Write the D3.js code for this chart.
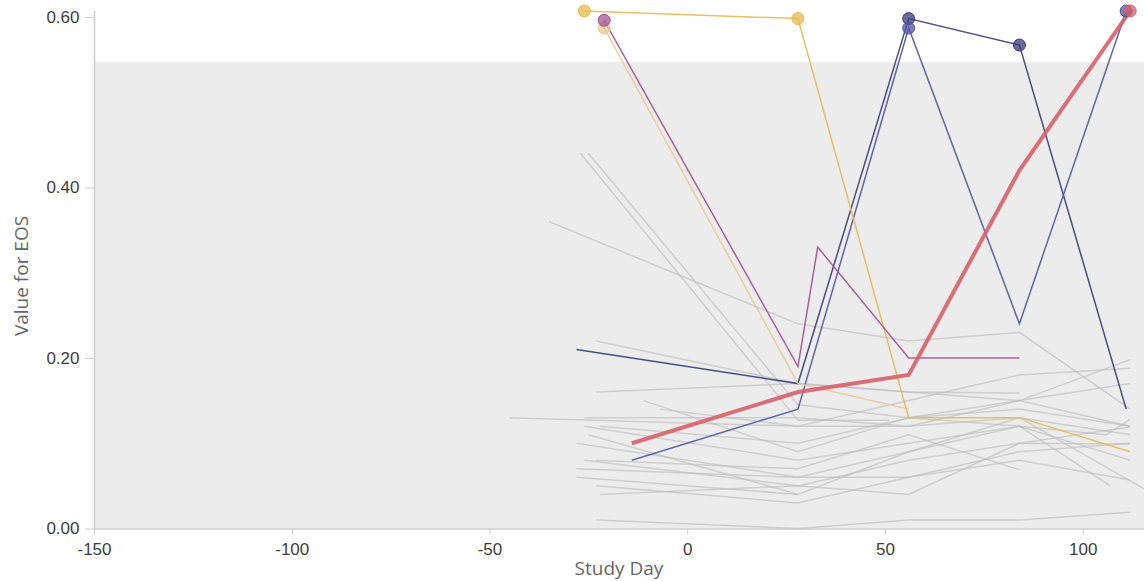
<!DOCTYPE html>
<html>
<head>
<meta charset="utf-8">
<script src="https://cdn.jsdelivr.net/npm/d3@7"></script>
<style>
  html, body { margin: 0; padding: 0; background: #fff; }
  svg { display: block; font-family: "Open Sans", sans-serif; }
</style>
</head>
<body>
<svg id="chart" width="1144" height="581"></svg>
<script>
// Axis ticks
const xTicks = [-150, -100, -50, 0, 50, 100];
const yTicks = [0, 0.2, 0.4, 0.6];

// Normal range for EOS (shaded band)
const normalRange = [0, 0.547];

// Highlighted participants: [study day, value]
const seriesNavy   = [[-28, 0.21], [28, 0.17], [56, 0.598], [84, 0.567], [111, 0.14]];
const seriesBlue   = [[-14, 0.08], [28, 0.14], [56, 0.587], [84, 0.24], [111, 0.607]];
const seriesYellow = [[-26, 0.607], [28, 0.598], [56, 0.13], [84, 0.13], [112, 0.09]];
const seriesTan    = [[-21, 0.587], [28, 0.17], [56, 0.14]];
const seriesPurple = [[-21, 0.596], [28, 0.19], [33, 0.33], [56, 0.20], [84, 0.20]];
const seriesRed    = [[-14, 0.10], [28, 0.16], [56, 0.18], [84, 0.42], [112, 0.607]];

// Remaining participants, drawn in grey
const greyLines = [
  [[-27, 0.44], [28, 0.127], [51, 0.127]],
  [[-25, 0.44], [28, 0.145], [56, 0.13], [84, 0.14], [112, 0.12]],
  [[-35, 0.36], [28, 0.24], [56, 0.22], [84, 0.23], [112, 0.14]],
  [[-23, 0.22], [28, 0.17], [56, 0.16], [84, 0.15], [112, 0.12]],
  [[-23, 0.16], [28, 0.17], [56, 0.16], [84, 0.159]],
  [[-45, 0.13], [28, 0.12], [56, 0.12], [84, 0.13], [112, 0.11]],
  [[-26, 0.13], [28, 0.13], [56, 0.12], [84, 0.15], [112, 0.17]],
  [[-11, 0.15], [28, 0.09], [56, 0.13], [84, 0.15], [112, 0.198]],
  [[-7, 0.14], [28, 0.12], [56, 0.15], [84, 0.18], [112, 0.188]],
  [[-26, 0.12], [28, 0.08], [56, 0.10], [84, 0.12], [106, 0.11], [112, 0.128]],
  [[-22, 0.12], [28, 0.10], [56, 0.13], [84, 0.12], [112, 0.08]],
  [[-28, 0.10], [28, 0.06], [56, 0.09], [84, 0.12], [107, 0.05]],
  [[-26, 0.08], [28, 0.05], [56, 0.08], [84, 0.10], [112, 0.119]],
  [[-23, 0.08], [28, 0.07], [56, 0.11], [84, 0.069]],
  [[-28, 0.06], [28, 0.04], [56, 0.09], [84, 0.13], [118, 0.04]],
  [[-23, 0.05], [28, 0.03], [56, 0.06], [84, 0.09], [112, 0.10]],
  [[-22, 0.04], [28, 0.05], [56, 0.04], [84, 0.10], [112, 0.099]],
  [[-23, 0.01], [28, 0.00], [56, 0.01], [84, 0.01], [112, 0.019]],
  [[-25, 0.11], [28, 0.04]],
  [[-28, 0.07], [28, 0.06], [56, 0.06], [84, 0.08], [112, 0.057]]
];

const highlighted = [
  { pts: seriesNavy,   color: "#393b79", width: 1.5 },
  { pts: seriesBlue,   color: "#5254a3", width: 1.5 },
  { pts: seriesTan,    color: "#e7cb94", width: 1.5 },
  { pts: seriesYellow, color: "#e7ba52", width: 1.5 },
  { pts: seriesPurple, color: "#a55194", width: 1.5 },
  { pts: seriesRed,    color: "#d6616b", width: 4 }
];

const plotLeft = 94, plotRight = 1144, plotTop = 10.5, plotBottom = 528.5;

const x = d3.scaleLinear().domain([-150, 115.5]).range([plotLeft, plotRight]);
const y = d3.scaleLinear().domain([0, 0.6075]).range([plotBottom, plotTop]);

const svg = d3.select("#chart");

// Normal-range band
svg.append("rect")
  .attr("x", plotLeft)
  .attr("y", y(normalRange[1]))
  .attr("width", plotRight - plotLeft)
  .attr("height", y(normalRange[0]) - y(normalRange[1]))
  .attr("fill", "#ececec");

// Axes
const xAxis = svg.append("g")
  .attr("transform", `translate(0,${plotBottom})`)
  .call(d3.axisBottom(x).tickValues(xTicks).tickSize(6).tickSizeOuter(0).tickFormat(d => String(d)));
const yAxis = svg.append("g")
  .attr("transform", `translate(${plotLeft},0)`)
  .call(d3.axisLeft(y).tickValues(yTicks).tickSize(9).tickSizeOuter(0).tickFormat(d3.format(".2f")));

[xAxis, yAxis].forEach(g => {
  g.select(".domain").attr("stroke", "#cccccc").attr("stroke-width", 1.5);
  g.selectAll(".tick line").attr("stroke", "#cccccc");
  g.selectAll(".tick text").attr("fill", "#3d3d3d").style("font-size", "17px");
});
xAxis.selectAll(".tick text").attr("y", 14);
yAxis.selectAll(".tick text").attr("x", -14.5);

// Axis titles
svg.append("text")
  .attr("x", (plotLeft + plotRight) / 2)
  .attr("y", 575)
  .attr("text-anchor", "middle")
  .attr("fill", "#666")
  .style("font-size", "19px")
  .text("Study Day");
svg.append("text")
  .attr("transform", "translate(28,276) rotate(-90)")
  .attr("text-anchor", "middle")
  .attr("fill", "#666")
  .style("font-size", "19px")
  .text("Value for EOS");

const line = d3.line().x(d => x(d[0])).y(d => y(d[1]));

// Grey lines
svg.append("g")
  .selectAll("path")
  .data(greyLines)
  .join("path")
  .attr("d", line)
  .attr("fill", "none")
  .attr("stroke", "#bbbbbb")
  .attr("stroke-opacity", 0.6)
  .attr("stroke-width", 1.5);

// Highlighted lines
const hl = svg.append("g");
highlighted.forEach(s => {
  hl.append("path")
    .attr("d", line(s.pts))
    .attr("fill", "none")
    .attr("stroke", s.color)
    .attr("stroke-opacity", 0.9)
    .attr("stroke-width", s.width);
});

// Markers for values above the normal range
highlighted.forEach(s => {
  hl.selectAll(null)
    .data(s.pts.filter(d => d[1] > normalRange[1]))
    .join("circle")
    .attr("cx", d => x(d[0]))
    .attr("cy", d => y(d[1]))
    .attr("r", 6)
    .attr("fill", s.color)
    .attr("fill-opacity", 0.75)
    .attr("stroke", s.color)
    .attr("stroke-width", 1);
});
</script>
</body>
</html>
